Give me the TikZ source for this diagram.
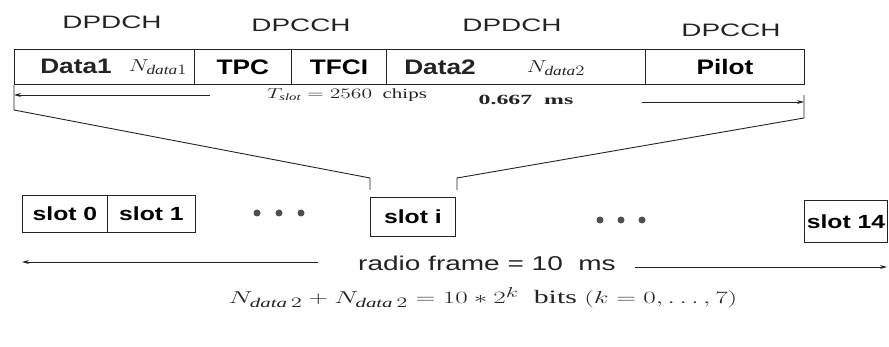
\documentclass[tikz,border=0pt]{standalone}
\usepackage{fontspec}
\setmainfont{Liberation Serif}
\setsansfont{Liberation Sans}
\usetikzlibrary{arrows.meta}
\newcommand\sx[3]{\scalebox{#2}[1]{\fontsize{#1}{#1}\selectfont\sffamily #3}}
\newcommand\mx[3]{\scalebox{#2}[1]{\fontsize{#1}{#1}\selectfont #3}}
\definecolor{ink}{RGB}{35,35,35}
\tikzset{
  ln/.style={draw=ink, line width=0.9pt},
  cell/.style={ln, minimum height=35pt, inner sep=0pt, anchor=west},
  slotbox/.style={ln, minimum height=37pt, inner sep=0pt, anchor=north west},
  lbl/.style={text=ink, inner sep=0pt},
  arr/.style={ln, -{Stealth[length=7pt,width=4pt]}},
  dot/.style={circle, fill=ink!80, minimum size=7pt, inner sep=0pt}
}
\begin{document}
\begin{tikzpicture}[x=1pt,y=-1pt]
\useasboundingbox (0,0) rectangle (889,347);
% channel labels
\node[lbl] (ch1) at (112,22) {\sx{18}{1.55}{DPDCH}};
\node[lbl] (ch2) at (301,25) {\sx{18}{1.55}{DPCCH}};
\node[lbl] (ch3) at (512,25) {\sx{18}{1.55}{DPDCH}};
\node[lbl] (ch4) at (731,30) {\sx{18}{1.55}{DPCCH}};
% slot structure
\node[cell, minimum width=180pt] (c1) at (14,67) {};
\node[cell, minimum width=97pt] (c2) at (194,67) {\sx{21}{1.25}{\bfseries TPC}};
\node[cell, minimum width=95pt] (c3) at (291,67) {\sx{21}{1.25}{\bfseries TFCI}};
\node[cell, minimum width=259pt] (c4) at (386,67) {};
\node[cell, minimum width=159pt] (c5) at (645,67) {\sx{21}{1.25}{\bfseries Pilot}};
\node[lbl] (d1) at (76,66) {\sx{21}{1.25}{\bfseries Data1}};
\node[lbl] (n1) at (158,67) {\mx{19}{1.3}{$N_{\mathit{data}1}$}};
\node[lbl] (d2) at (440,67) {\sx{21}{1.25}{\bfseries Data2}};
\node[lbl] (n2) at (556,68) {\mx{19}{1.3}{$N_{\mathit{data}2}$}};
% T slot
\node[lbl] (ts) at (347,95) {\mx{14}{1.5}{$T_{\mathit{slot}}=2560$\ \ chips}};
\node[lbl] (tm) at (526,100) {\mx{14}{1.7}{\bfseries 0.667\ \ ms}};
\coordinate (la0) at (210,95);
\coordinate (la1) at (14,95);
\coordinate (ra0) at (642,102);
\coordinate (ra1) at (804,102);
\draw[arr] (la0) -- (la1);
\draw[arr] (ra0) -- (ra1);
% zoom lines
\coordinate (lt) at (14,110);
\coordinate (rt0) at (804,95);
\coordinate (rt) at (804,118);
\coordinate (lb0) at (370,178);
\coordinate (lb) at (370,190);
\coordinate (rb0) at (457,178);
\coordinate (rb) at (457,190);
\draw[ln] (c1.south west) -- (lt) -- (lb0) -- (lb);
\draw[ln] (rt0) -- (rt) -- (rb0) -- (rb);
% slots
\node[slotbox, minimum width=85pt] (s0) at (22,195) {\sx{19}{1.3}{\bfseries slot 0}};
\node[slotbox, minimum width=88pt] (s1) at (107,195) {\sx{19}{1.3}{\bfseries slot 1}};
\node[slotbox, minimum width=85pt, minimum height=39pt] (si) at (370,197) {\sx{19}{1.3}{\bfseries slot i}};
\node[slotbox, minimum width=83pt, minimum height=42pt] (s14) at (804,200) {\sx{19}{1.3}{\bfseries slot 14}};
\node[dot] (p1) at (257,213) {};
\node[dot] (p2) at (279,213) {};
\node[dot] (p3) at (301,213) {};
\node[dot] (q1) at (600,220) {};
\node[dot] (q2) at (621,220) {};
\node[dot] (q3) at (642,220) {};
% radio frame
\node[lbl] (rf) at (487,263) {\sx{20}{1.4}{radio frame = 10\ \ ms}};
\coordinate (fa0) at (318,262);
\coordinate (fa1) at (22,262);
\coordinate (fb0) at (635,267);
\coordinate (fb1) at (887,267);
\draw[arr] (fa0) -- (fa1);
\draw[arr] (fb0) -- (fb1);
% equation
\node[lbl] (eq) at (483,298) {\mx{19}{1.57}{$N_{\mathit{data}\,2}+N_{\mathit{data}\,2}=10*2^{k}$\ \ bits $(k=0,\ldots,7)$}};
\end{tikzpicture}
\end{document}
